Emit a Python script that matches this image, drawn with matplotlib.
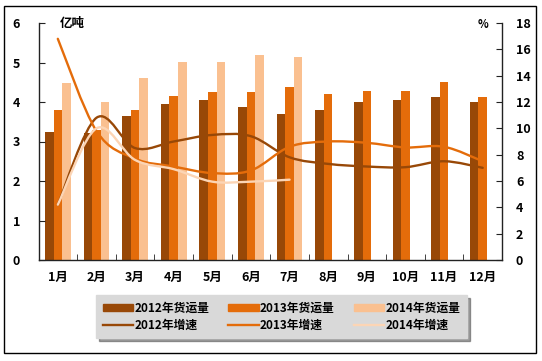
import matplotlib
matplotlib.use("Agg")
import matplotlib.pyplot as plt
from matplotlib.path import Path
from matplotlib.patches import PathPatch, Rectangle, Patch
from matplotlib.lines import Line2D
import numpy as np

plt.rcParams['font.family'] = ['Noto Sans CJK SC', 'DejaVu Sans']
plt.rcParams['font.weight'] = 'bold'

months = ['1月', '2月', '3月', '4月', '5月', '6月', '7月', '8月', '9月', '10月', '11月', '12月']
vol_2012 = [3.25, 3.22, 3.65, 3.94, 4.05, 3.88, 3.69, 3.81, 3.99, 4.05, 4.13, 3.99]
vol_2013 = [3.81, 3.29, 3.80, 4.15, 4.25, 4.25, 4.38, 4.19, 4.29, 4.29, 4.50, 4.13]
vol_2014 = [4.49, 3.99, 4.60, 5.01, 5.01, 5.19, 5.13]
gr_2012 = [4.2, 10.8, 8.5, 9.0, 9.5, 9.4, 7.8, 7.3, 7.1, 7.05, 7.5, 7.0]
gr_2013 = [16.8, 9.8, 7.7, 7.1, 6.6, 6.8, 8.6, 9.0, 8.9, 8.55, 8.6, 7.5]
gr_2014 = [4.2, 10.0, 7.6, 6.9, 5.95, 5.95, 6.1]

c12, c13, c14 = '#984807', '#e46c0a', '#fac090'
lc12, lc13, lc14 = '#984807', '#e46c0a', '#fcd5b5'

fig = plt.figure(figsize=(5.42, 3.61), dpi=100)
ax = fig.add_axes([38.5/542, 1-260/361, (502-38.5)/542, (260-23)/361])
ax2 = ax.twinx()

x = np.arange(len(months))
w = 0.223
ax.bar(x - w, vol_2012, w, color=c12, linewidth=0)
ax.bar(x, vol_2013, w, color=c13, linewidth=0)
ax.bar(np.arange(len(vol_2014)) + w, vol_2014, w, color=c14, linewidth=0)

def smooth_path(xs, ys):
    pts = np.column_stack([xs, ys]).astype(float)
    n = len(pts)
    verts = [pts[0]]
    codes = [Path.MOVETO]
    for i in range(n - 1):
        p0 = pts[i - 1] if i > 0 else pts[i]
        p1 = pts[i]
        p2 = pts[i + 1]
        p3 = pts[i + 2] if i + 2 < n else pts[i + 1]
        c1 = p1 + (p2 - p0) / 6.0
        c2 = p2 - (p3 - p1) / 6.0
        verts += [c1, c2, p2]
        codes += [Path.CURVE4] * 3
    return Path(verts, codes)

for vals, col in [(gr_2012, lc12), (gr_2013, lc13), (gr_2014, lc14)]:
    p = smooth_path(np.arange(len(vals)), vals)
    ax2.add_patch(PathPatch(p, facecolor='none', edgecolor=col, lw=1.7,
                            capstyle='round', joinstyle='round'))

ax.set_xlim(-0.5, 11.5)
ax.set_ylim(0, 6)
ax2.set_ylim(0, 18)
ax.set_yticks(range(0, 7))
ax2.set_yticks(range(0, 19, 2))
ax.set_xticks(x)
ax.set_xticklabels(months)
ax.set_xticks(np.arange(-0.5, 12, 1), minor=True)

for a in (ax, ax2):
    a.spines['top'].set_visible(False)
    for s in a.spines.values():
        s.set_color('#222222')
        s.set_linewidth(1.0)
ax.spines['right'].set_visible(False)
ax2.spines['left'].set_visible(False)
ax2.spines['bottom'].set_visible(False)

ax.tick_params(axis='x', which='major', length=0, pad=8, labelsize=9)
ax.tick_params(axis='x', which='minor', direction='in', length=4, color='#222222')
ax.tick_params(axis='y', direction='in', length=4, pad=16, labelsize=9, color='#222222')
ax2.tick_params(axis='y', direction='in', length=4, pad=10, labelsize=9, color='#222222')
for lab in ax.get_yticklabels() + ax2.get_yticklabels() + ax.get_xticklabels():
    lab.set_fontweight('bold')
for lab in ax.get_yticklabels():
    lab.set_horizontalalignment('center')

fig.text(72.5/542, 1-24/361, '亿吨', ha='center', va='center', fontsize=9, fontweight='bold')
fig.text(482.7/542, 1-24/361, '%', ha='center', va='center', fontsize=8, fontweight='bold')

handles = [Patch(color=c12), Line2D([], [], color=lc12, lw=1.7),
           Patch(color=c13), Line2D([], [], color=lc13, lw=1.7),
           Patch(color=c14), Line2D([], [], color=lc14, lw=1.7)]
labels = ['2012年货运量', '2012年增速', '2013年货运量', '2013年增速', '2014年货运量', '2014年增速']
leg = fig.legend(handles, labels, ncol=3, loc='center', bbox_to_anchor=(281.5/542, 1-316.5/361),
                 frameon=True, fancybox=False, shadow=True, facecolor='#d9d9d9', edgecolor='#d9d9d9',
                 prop={'size': 8.5, 'weight': 'bold'}, handlelength=2.6, handleheight=0.6,
                 handletextpad=0.1, columnspacing=1.6, labelspacing=0.35, borderpad=0.55)

fig.patches.append(Rectangle((3.5/542, 1-353/361), 532.5/542, 347/361, transform=fig.transFigure,
                             fill=False, edgecolor='black', lw=1.0))

fig.savefig('out.png', dpi=100)
